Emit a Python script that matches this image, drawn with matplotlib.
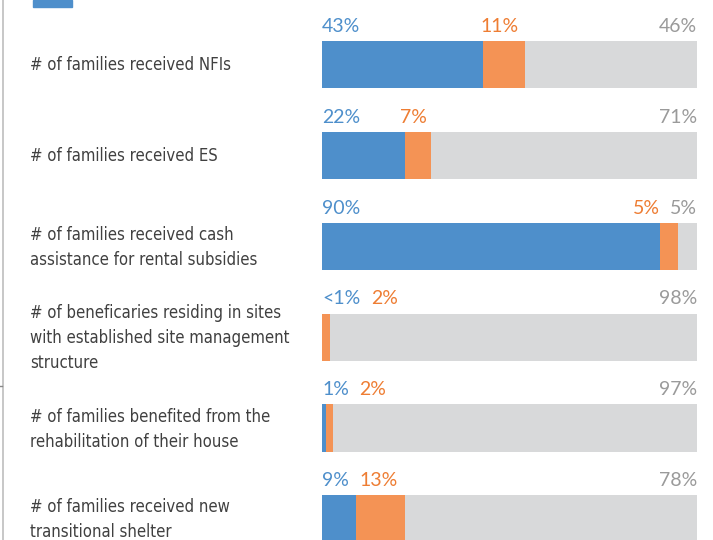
import matplotlib
matplotlib.use("Agg")
import matplotlib.pyplot as plt
from matplotlib.transforms import blended_transform_factory
from matplotlib.lines import Line2D
from matplotlib.patches import Rectangle

# datos
categories = [
    "# of families received NFIs",
    "# of families received ES",
    "# of families received cash\nassistance for rental subsidies",
    "# of beneficaries residing in sites\nwith established site management\nstructure",
    "# of families benefited from the\nrehabilitation of their house",
    "# of families received new\ntransitional shelter",
]
blue_vals = [43, 22, 90, 0, 1, 9]
orange_vals = [11, 7, 5, 2, 2, 13]
gray_vals = [46, 71, 5, 98, 97, 78]
blue_labels = ["43%", "22%", "90%", "<1%", "1%", "9%"]
orange_labels = ["11%", "7%", "5%", "2%", "2%", "13%"]
gray_labels = ["46%", "71%", "5%", "98%", "97%", "78%"]

c_blue = "#4E8FCB"
c_orange = "#F49355"
c_gray = "#D8D9DA"
t_orange = "#EE7D33"
t_gray = "#9A9A9A"
t_cat = "#404040"

W, H = 713, 540
fig = plt.figure(figsize=(W / 100, H / 100), dpi=100)
ax = fig.add_axes([322 / W, 0, 375 / W, 1])
ax.set_xlim(0, 100)
ax.set_ylim((H - 64.5) / 90.9, -64.5 / 90.9)
ax.axis("off")

bh = 0.52
ys = list(range(len(categories)))
ax.barh(ys, blue_vals, height=bh, color=c_blue)
ax.barh(ys, orange_vals, left=blue_vals, height=bh, color=c_orange)
left_gray = [b + o for b, o in zip(blue_vals, orange_vals)]
ax.barh(ys, gray_vals, left=left_gray, height=bh, color=c_gray)

pct_font = dict(family=["Lato", "DejaVu Sans"], fontsize=14)
trans_cat = blended_transform_factory(fig.transFigure, ax.transData)

fig.canvas.draw()
r = fig.canvas.get_renderer()
inv = ax.transData.inverted()

def xspan(t):
    bb = t.get_window_extent(renderer=r)
    x0 = inv.transform((bb.x0, 0))[0]
    x1 = inv.transform((bb.x1, 0))[0]
    return x0, x1

gap = 2.8
for i in ys:
    ty = i - bh / 2 - 0.1
    tb = ax.text(0, ty, blue_labels[i], color=c_blue, ha="left", va="baseline", **pct_font)
    tg = ax.text(100, ty, gray_labels[i], color=t_gray, ha="right", va="baseline", **pct_font)
    center = blue_vals[i] + orange_vals[i] / 2
    to = ax.text(center, ty, orange_labels[i], color=t_orange, ha="center", va="baseline", **pct_font)
    b0, b1 = xspan(tb)
    g0, g1 = xspan(tg)
    o0, o1 = xspan(to)
    w = o1 - o0
    left = o0 - 1.2
    if left < b1 + gap:
        left = b1 + gap
    if left + w > g0 - gap:
        left = g0 - gap - w
    to.set_x(left)
    to.set_ha("left")
    ax.text(30 / W, i + 0.01, categories[i], transform=trans_cat, ha="left", va="center",
            color=t_cat, fontsize=12, linespacing=1.5,
            family="DejaVu Sans", fontstretch="condensed")

# borde izquierdo y recuadro de leyenda recortado
fig.add_artist(Line2D([2.5 / W, 2.5 / W], [0, 1], transform=fig.transFigure, color="#BDBDBD", lw=1.2))
fig.add_artist(Line2D([0, 2 / W], [1 - 386 / H, 1 - 386 / H], transform=fig.transFigure, color="#888888", lw=1))
fig.add_artist(Rectangle((33 / W, 1 - 7 / H), 39 / W, 7 / H, transform=fig.transFigure, color=c_blue))

fig.savefig("out.png", dpi=100)
